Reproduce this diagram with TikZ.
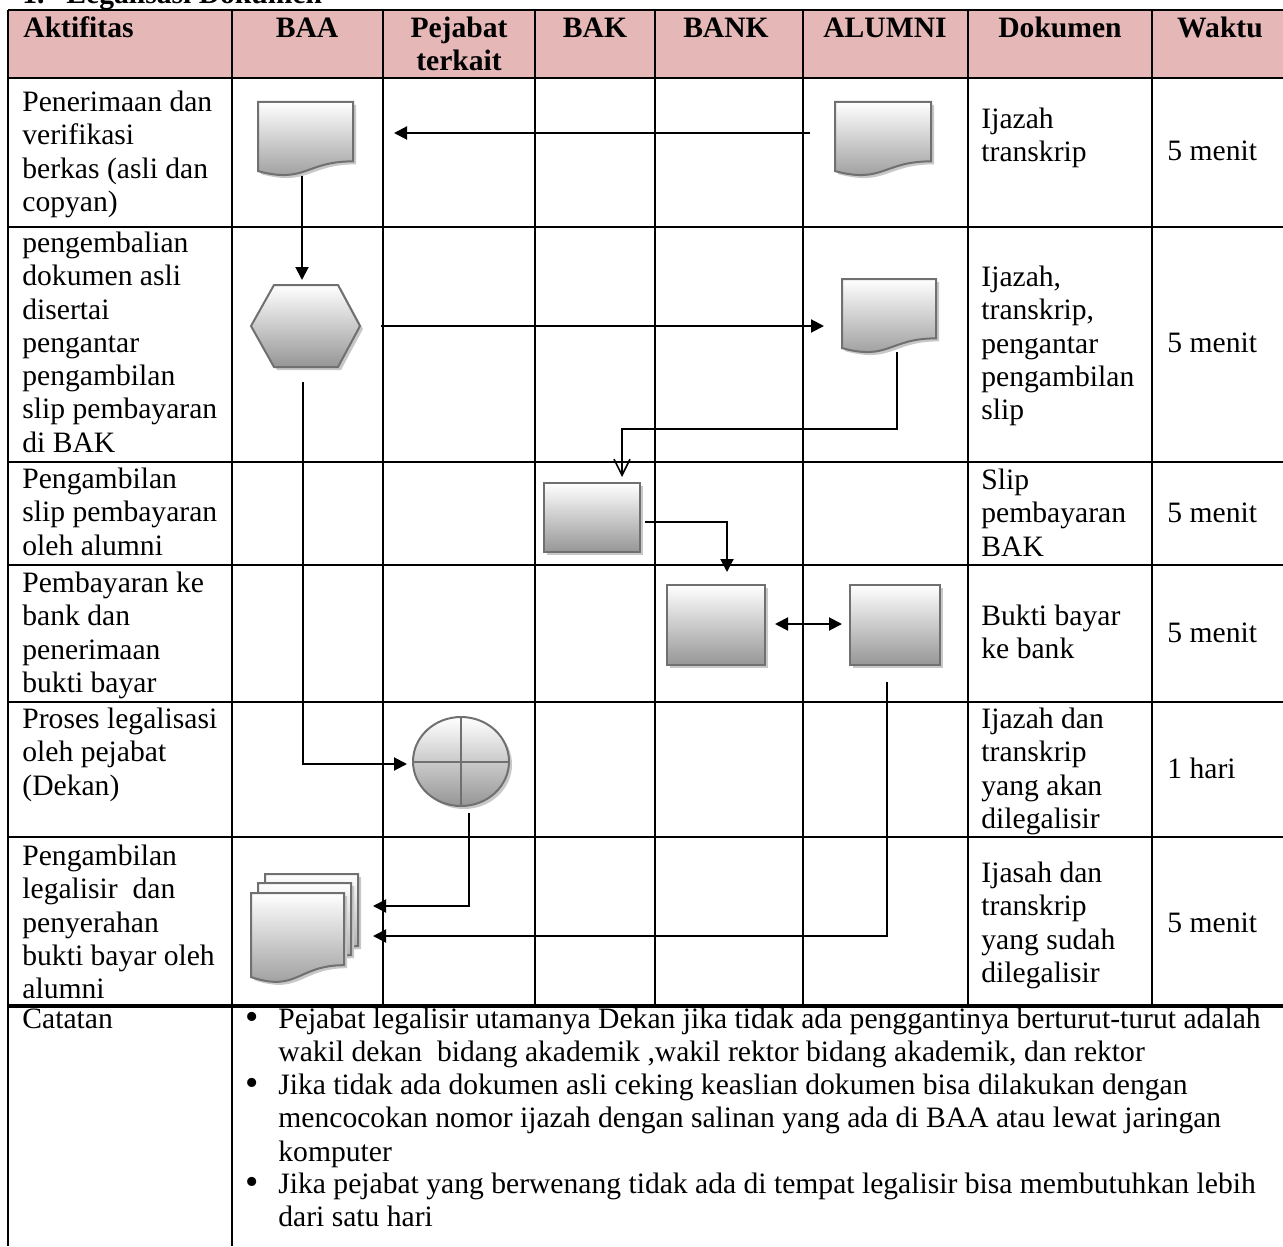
\documentclass[tikz,border=0pt]{standalone}
\usepackage{fontspec}
\setmainfont{Liberation Serif}
\usetikzlibrary{arrows.meta,calc}
\definecolor{hdr}{RGB}{229,184,183}
\definecolor{shpline}{RGB}{112,112,112}
\definecolor{shpbot}{RGB}{150,150,150}
\definecolor{sdwcol}{RGB}{200,200,200}

\newcommand\mydoc[5]{%
  \fill[sdwst,shift={(3,3)}] (#2,#3) -- ({#2+#4},#3) -- ({#2+#4},{#3+0.802*#5}) .. controls ({#2+0.5*#4},{#3+0.802*#5}) and ({#2+0.5*#4},{#3+1.107*#5}) .. (#2,{#3+0.934*#5}) -- cycle;
  \path[shpst] (#2,#3) -- ({#2+#4},#3) -- ({#2+#4},{#3+0.802*#5}) .. controls ({#2+0.5*#4},{#3+0.802*#5}) and ({#2+0.5*#4},{#3+1.107*#5}) .. (#2,{#3+0.934*#5}) -- cycle;
  \node[boxst,minimum width={#4*0.5pt},minimum height={#5*0.5pt}] (#1) at (#2,#3) {};%
}
\newcommand\myrect[5]{%
  \fill[sdwst,shift={(3,3)}] (#2,#3) rectangle ({#2+#4},{#3+#5});
  \path[shpst] (#2,#3) rectangle ({#2+#4},{#3+#5});
  \node[boxst,minimum width={#4*0.5pt},minimum height={#5*0.5pt}] (#1) at (#2,#3) {};%
}

\begin{document}
\begin{tikzpicture}[x=0.5pt,y=-0.5pt,
  tline/.style={line width=1pt},
  conn/.style={line width=1pt},
  arr/.style={conn,-{Triangle[length=6.5pt,width=6.5pt]}},
  darr/.style={conn,{Triangle[length=6.5pt,width=6.5pt]}-{Triangle[length=6.5pt,width=6.5pt]}},
  oarr/.style={conn,-{Straight Barb[length=8pt,width=8pt,line width=0.8pt]}},
  shpst/.style={draw=shpline,line width=1pt,top color=white,bottom color=shpbot},
  sdwst/.style={fill=sdwcol,draw=none},
  boxst/.style={inner sep=0pt,outer sep=0pt,anchor=north west},
  txt/.style={inner sep=0pt,anchor=north west,align=left,font=\fontsize{14.8}{16.65}\selectfont},
  btxt/.style={inner sep=0pt,anchor=base west,font=\fontsize{14.8}{16.65}\selectfont},
  hd/.style={inner sep=0pt,anchor=base,font=\fontsize{14.8}{16.65}\selectfont\bfseries},
  bul/.style={inner sep=0pt,anchor=base,font=\fontsize{19}{20}\selectfont},
]
\useasboundingbox (0,0) rectangle (1283,1246);
\begin{scope}
\clip (0,0) rectangle (1283,1246);

% title (cut off at top, as in the reference)
\node[btxt,font=\fontsize{14.8}{16.65}\selectfont\bfseries] (ttl1) at (22,4) {1.};
\node[btxt,font=\fontsize{14.8}{16.65}\selectfont\bfseries] (ttl2) at (66,4) {Legalisasi Dokumen};

% header fill
\fill[hdr] (8,10) rectangle (1283,78);

% grid
\foreach \yy in {10,78,227,462,565,702,837} \draw[tline] (8,\yy) -- (1283,\yy);
\draw[line width=1.6pt] (8,1006) -- (1283,1006);
\foreach \xx in {8,232} \draw[tline] (\xx,10) -- (\xx,1246);
\foreach \xx in {383,535,655,803,968,1152} \draw[tline] (\xx,10) -- (\xx,1006);

% header text
\node[hd,anchor=base west] (hA) at (23,38) {Aktifitas};
\node[hd] (hB) at (307,38) {BAA};
\node[hd] (hP1) at (459,38) {Pejabat};
\node[hd] (hP2) at (459,71) {terkait};
\node[hd] (hK) at (595,38) {BAK};
\node[hd] (hN) at (726,38) {BANK};
\node[hd] (hL) at (885,38) {ALUMNI};
\node[hd] (hD) at (1060,38) {Dokumen};
\node[hd] (hW) at (1220,38) {Waktu};

% row texts (first baseline - 23.3)
\node[txt] (a1) at (22,87.7) {\strut Penerimaan dan\\verifikasi\\berkas (asli dan\\copyan)};
\node[txt] (d1) at (981,104.7) {\strut Ijazah\\transkrip};
\node[btxt] (w1) at (1167,161) {5 menit};

\node[txt] (a2) at (22,228.7) {\strut pengembalian\\dokumen asli\\disertai\\pengantar\\pengambilan\\slip pembayaran\\di BAK};
\node[txt] (d2) at (981,262.7) {\strut Ijazah,\\transkrip,\\pengantar\\pengambilan\\slip};
\node[btxt] (w2) at (1167,352) {5 menit};

\node[txt] (a3) at (22,464.7) {\strut Pengambilan\\slip pembayaran\\oleh alumni};
\node[txt] (d3) at (981,465.7) {\strut Slip\\pembayaran\\BAK};
\node[btxt] (w3) at (1167,522) {5 menit};

\node[txt] (a4) at (22,568.7) {\strut Pembayaran ke\\bank dan\\penerimaan\\bukti bayar};
\node[txt] (d4) at (981,601.7) {\strut Bukti bayar\\ke bank};
\node[btxt] (w4) at (1167,642) {5 menit};

\node[txt] (a5) at (22,704.7) {\strut Proses legalisasi\\oleh pejabat\\(Dekan)};
\node[txt] (d5) at (981,704.7) {\strut Ijazah dan\\transkrip\\yang akan\\dilegalisir};
\node[btxt] (w5) at (1167,778) {1 hari};

\node[txt] (a6) at (22,841.7) {\strut Pengambilan\\legalisir\ \ dan\\penyerahan\\bukti bayar oleh\\alumni};
\node[txt] (d6) at (981,858.7) {\strut Ijasah dan\\transkrip\\yang sudah\\dilegalisir};
\node[btxt] (w6) at (1167,932) {5 menit};

% catatan
\node[btxt] (cat) at (22,1028) {Catatan};
\node[bul] (b1) at (252,1029) {\textbullet};
\node[bul] (b2) at (252,1095) {\textbullet};
\node[bul] (b3) at (252,1194) {\textbullet};
\node[txt] (n1) at (278,1004.7) {\strut Pejabat legalisir utamanya Dekan jika tidak ada penggantinya berturut-turut adalah\\wakil dekan\ \ bidang akademik ,wakil rektor bidang akademik, dan rektor};
\node[txt] (n2) at (278,1070.7) {\strut Jika tidak ada dokumen asli ceking keaslian dokumen bisa dilakukan dengan\\mencocokan nomor ijazah dengan salinan yang ada di BAA atau lewat jaringan\\komputer};
\node[txt] (n3) at (278,1169.7) {\strut Jika pejabat yang berwenang tidak ada di tempat legalisir bisa membutuhkan lebih\\dari satu hari};

% shapes
\mydoc{baa1}{258}{102}{95}{74}
\mydoc{alu1}{835}{102}{96}{74}
\mydoc{alu2}{842}{279}{94}{74}

\fill[sdwst,shift={(3,3)}] (251,326) -- (274,285) -- (338,285) -- (360,326) -- (338,367) -- (274,367) -- cycle;
\path[shpst] (251,326) -- (274,285) -- (338,285) -- (360,326) -- (338,367) -- (274,367) -- cycle;
\node[boxst,minimum width=54.5pt,minimum height=41pt] (hex) at (251,285) {};

\myrect{bak}{544}{483}{96}{69}
\myrect{bank}{667}{585}{98}{80}
\myrect{alu3}{850}{585}{90}{80}

\fill[sdwst] (464,764.5) ellipse [x radius=24pt, y radius=22.25pt];
\path[shpst] (461,761.5) ellipse [x radius=24pt, y radius=22.25pt];
\draw[draw=shpline,line width=1pt] (413,761.5) -- (509,761.5);
\draw[draw=shpline,line width=1pt] (461,717) -- (461,806);
\node[boxst,minimum width=48pt,minimum height=44.5pt] (circ) at (413,717) {};

\mydoc{legb}{265}{874}{93}{90}
\mydoc{legm}{258}{883}{93}{90}
\mydoc{leg}{251}{893}{93}{90}

% connectors
\draw[arr] ($(alu1.west)+(-25,-6)$) -- ($(baa1.east)+(41,-6)$);
\draw[arr] ($(baa1.south)+(-3.5,0)$) -- ($(hex.north)+(-3.5,-5)$);
\draw[arr] ($(hex.east)+(21,0)$) -- ($(alu2.west)+(-18,10)$);
\draw[arr] ($(hex.south)+(-3,15)$) |- ($(circ.west)+(-6,2.5)$);
\draw[oarr] ($(alu2.south)+(8,-1)$) -- ++(0,77) -| ($(bak.north)+(30,-6)$);
\draw[arr] ($(bak.east)+(5,4.5)$) -| ($(bank.north)+(11,-13)$);
\draw[darr] ($(bank.east)+(10,-1)$) -- ($(alu3.west)+(-8,-1)$);
\draw[arr] ($(alu3.south)+(-8,17)$) |- ($(leg.east)+(29,-2)$);
\draw[arr] ($(circ.south)+(8,7)$) |- ($(leg.east)+(29,-32)$);
\end{scope}
\end{tikzpicture}
\end{document}
